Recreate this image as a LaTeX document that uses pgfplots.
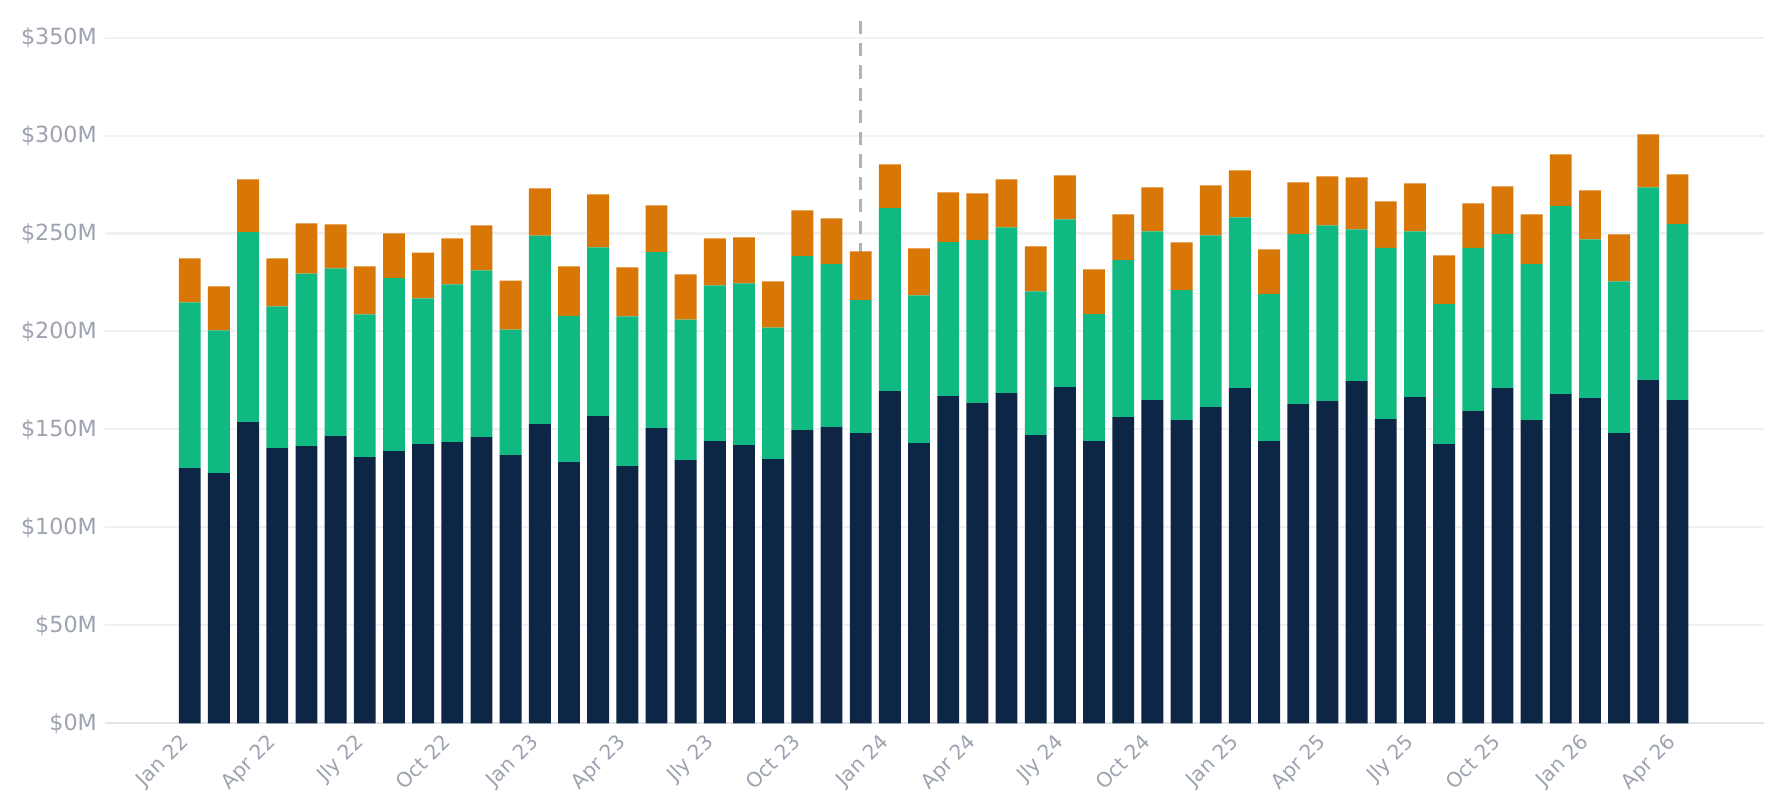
\documentclass[border=0pt]{standalone}
\usepackage{pgfplots}
\pgfplotsset{compat=1.18}
\usepackage{pgfplotstable}
\usepackage{fontspec}
\setmainfont{DejaVu Sans}

\definecolor{navy}{HTML}{0E2645}
\definecolor{emerald}{HTML}{10B981}
\definecolor{amber}{HTML}{D97706}
\definecolor{ticktext}{HTML}{9CA3AF}
\definecolor{gridc}{HTML}{F0F1F3}
\definecolor{basec}{HTML}{E2E4EA}
\definecolor{dashc}{HTML}{AEB2BA}

% month index, bottom segment, middle segment, top segment ($M)
\pgfplotstableread{
x  a      b     c
0  130.3  84.5  22.5
1  127.7  72.8  22.5
2  153.7  97.0  26.9
3  140.5  72.3  24.5
4  141.5  88.0  25.7
5  146.6  85.6  22.4
6  135.9  72.8  24.5
7  138.9  88.3  22.9
8  142.5  74.4  23.4
9  143.5  80.5  23.5
10 146.1  85.1  22.9
11 136.9  64.0  25.1
12 152.7  96.2  24.1
13 133.3  74.7  25.2
14 156.8  86.1  27.1
15 131.3  76.4  25.0
16 150.7  89.8  23.9
17 134.3  71.7  23.1
18 144.0  79.5  24.0
19 142.0  82.5  23.5
20 134.9  67.1  23.5
21 149.7  88.8  23.3
22 151.2  83.2  23.3
23 148.1  67.9  24.9
24 169.6  93.4  22.3
25 143.0  75.4  24.0
26 167.0  78.6  25.4
27 163.4  83.2  23.9
28 168.5  84.6  24.5
29 147.1  73.3  23.0
30 171.6  85.6  22.5
31 144.0  64.9  22.8
32 156.3  80.1  23.4
33 165.0  86.1  22.4
34 154.8  66.3  24.4
35 161.4  87.6  25.6
36 171.1  87.1  24.0
37 144.0  75.1  22.8
38 162.9  86.8  26.4
39 164.5  89.6  25.1
40 174.7  77.4  26.6
41 155.3  87.3  23.8
42 166.5  84.6  24.5
43 142.5  71.5  24.8
44 159.4  83.2  22.8
45 171.1  78.6  24.4
46 154.8  79.6  25.4
47 168.0  96.0  26.4
48 166.0  81.0  25.0
49 148.1  77.4  24.0
50 175.2  98.3  27.1
51 165.0  89.8  25.4
}\revtable

\begin{document}
\begin{tikzpicture}
\begin{axis}[
    scale only axis,
    width=821pt, height=349pt,
    ybar stacked,
    bar width=0.75,
    xmin=-2.92, xmax=53.96,
    ymin=0, ymax=360,
    xtick={0,3,...,51},
    xticklabels={Jan 22,Apr 22,Jly 22,Oct 22,Jan 23,Apr 23,Jly 23,Oct 23,Jan 24,Apr 24,Jly 24,Oct 24,Jan 25,Apr 25,Jly 25,Oct 25,Jan 26,Apr 26},
    ytick={0,50,...,350},
    yticklabels={\$0M,\$50M,\$100M,\$150M,\$200M,\$250M,\$300M,\$350M},
    major tick length=0pt,
    xticklabel style={xshift=-5.5pt, yshift=0.5pt, rotate=45, anchor=north east, font=\fontsize{10}{12}\selectfont, text=ticktext},
    yticklabel style={font=\fontsize{11}{13}\selectfont, text=ticktext, xshift=-0.3pt},
    ymajorgrids=true,
    grid style={draw=gridc, line width=1pt},
    axis x line*=bottom,
    axis y line*=left,
    x axis line style={draw=basec, line width=1pt, -},
    y axis line style={draw=none},
    clip=false,
]
\addplot[fill=navy, draw=none] table[x=x, y=a] {\revtable};
\addplot[fill=emerald, draw=none] table[x=x, y=b] {\revtable};
\addplot[fill=amber, draw=none] table[x=x, y=c] {\revtable};
\draw[dashc, line width=1.5pt, dash pattern=on 6.5pt off 4.5pt] (axis cs:23,0) -- (axis cs:23,360);
\end{axis}
\pgfresetboundingbox
\path ([shift={(-51.75pt,-43.3pt)}]current axis.south west) rectangle ([shift={(9pt,8.9pt)}]current axis.north east);
\end{tikzpicture}
\end{document}
